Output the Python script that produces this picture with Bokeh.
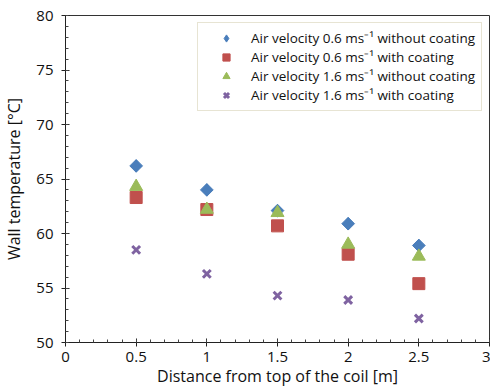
import math
from bokeh.plotting import figure
from bokeh.models import Range1d, FixedTicker, Legend, LegendItem
from bokeh.embed import file_html
from bokeh.resources import INLINE

distance = [0.5, 1.0, 1.5, 2.0, 2.5]
v06_without = [66.2, 64.0, 62.1, 60.9, 58.9]
v06_with = [63.3, 62.2, 60.7, 58.1, 55.4]
v16_without = [64.3, 62.2, 61.9, 59.0, 57.9]
v16_with = [58.5, 56.3, 54.3, 53.9, 52.2]

labels = [
    "Air velocity 0.6 ms\u207b\u00b9 without coating",
    "Air velocity 0.6 ms\u207b\u00b9 with coating",
    "Air velocity 1.6 ms\u207b\u00b9 without coating",
    "Air velocity 1.6 ms\u207b\u00b9 with coating",
]
x_ticks = [0, 0.5, 1, 1.5, 2, 2.5, 3]
y_ticks = [50, 55, 60, 65, 70, 75, 80]

FONT = "Open Sans"
BLUE, RED, GREEN, PURPLE = "#4a7ebb", "#c0504d", "#9bbb59", "#7f63a1"

p = figure(width=490, height=389, output_backend="svg", toolbar_location=None,
           x_range=Range1d(0, 3), y_range=Range1d(50, 80))
p.min_border_left = 64
p.min_border_right = 1
p.min_border_top = 15
p.min_border_bottom = 47
p.background_fill_color = "white"
p.border_fill_color = "white"
p.outline_line_color = "#333333"
p.outline_line_width = 1
p.xgrid.visible = False
p.ygrid.visible = False

# diamond glyph (used for the legend); the rotated square drawn over it gives
# the square-shaped diamond of the original
r1 = p.scatter(distance, v06_without, marker="diamond", size=12, color=BLUE)
p.scatter(distance, v06_without, marker="square", size=9, angle=math.pi / 4, color=BLUE)
r2 = p.scatter(distance, v06_with, marker="square", size=12, color=RED)
r3 = p.scatter(distance, v16_without, marker="triangle", size=13, color=GREEN)
r4 = p.scatter(distance, v16_with, marker="x", size=11, line_color=PURPLE, line_width=3)

legend = Legend(items=[LegendItem(label=labels[0], renderers=[r1]),
                       LegendItem(label=labels[1], renderers=[r2]),
                       LegendItem(label=labels[2], renderers=[r3]),
                       LegendItem(label=labels[3], renderers=[r4])],
                location="top_right")
legend.label_text_font = FONT
legend.label_text_font_size = "13.5px"
legend.label_text_color = "#111111"
legend.border_line_color = "#cfc9a8"
legend.border_line_width = 1
legend.background_fill_color = "white"
legend.margin = 7
legend.padding = 6
legend.spacing = 1
legend.glyph_width = 44
legend.glyph_height = 18
legend.label_height = 18
legend.label_standoff = 3
p.add_layout(legend)

for ax in (p.xaxis[0], p.yaxis[0]):
    ax.axis_label_text_font = FONT
    ax.axis_label_text_font_style = "normal"
    ax.axis_label_text_font_size = "16px"
    ax.axis_label_text_color = "#111111"
    ax.major_label_text_font = FONT
    ax.major_label_text_font_size = "15px"
    ax.major_label_text_color = "#111111"
    ax.axis_line_color = "#222222"
    ax.major_tick_line_color = "#222222"
    ax.minor_tick_line_color = "#444444"
    ax.major_tick_out = 4
    ax.major_tick_in = 4
    ax.minor_tick_out = 0
    ax.minor_tick_in = 3

p.xaxis.axis_label = "Distance from top of the coil [m]"
p.yaxis.axis_label = "Wall temperature [°C]"
p.xaxis.ticker = FixedTicker(ticks=x_ticks,
                             minor_ticks=[round(i * 0.1, 2) for i in range(31)])
p.yaxis.ticker = FixedTicker(ticks=y_ticks, minor_ticks=list(range(50, 81)))
p.xaxis.major_label_overrides = {0: "0", 1: "1", 2: "2", 3: "3"}
p.xaxis.axis_label_standoff = 0
p.yaxis.axis_label_standoff = 8
p.xaxis.major_label_standoff = 5
p.yaxis.major_label_standoff = 8

open("out.html", "w").write(file_html(p, INLINE))
